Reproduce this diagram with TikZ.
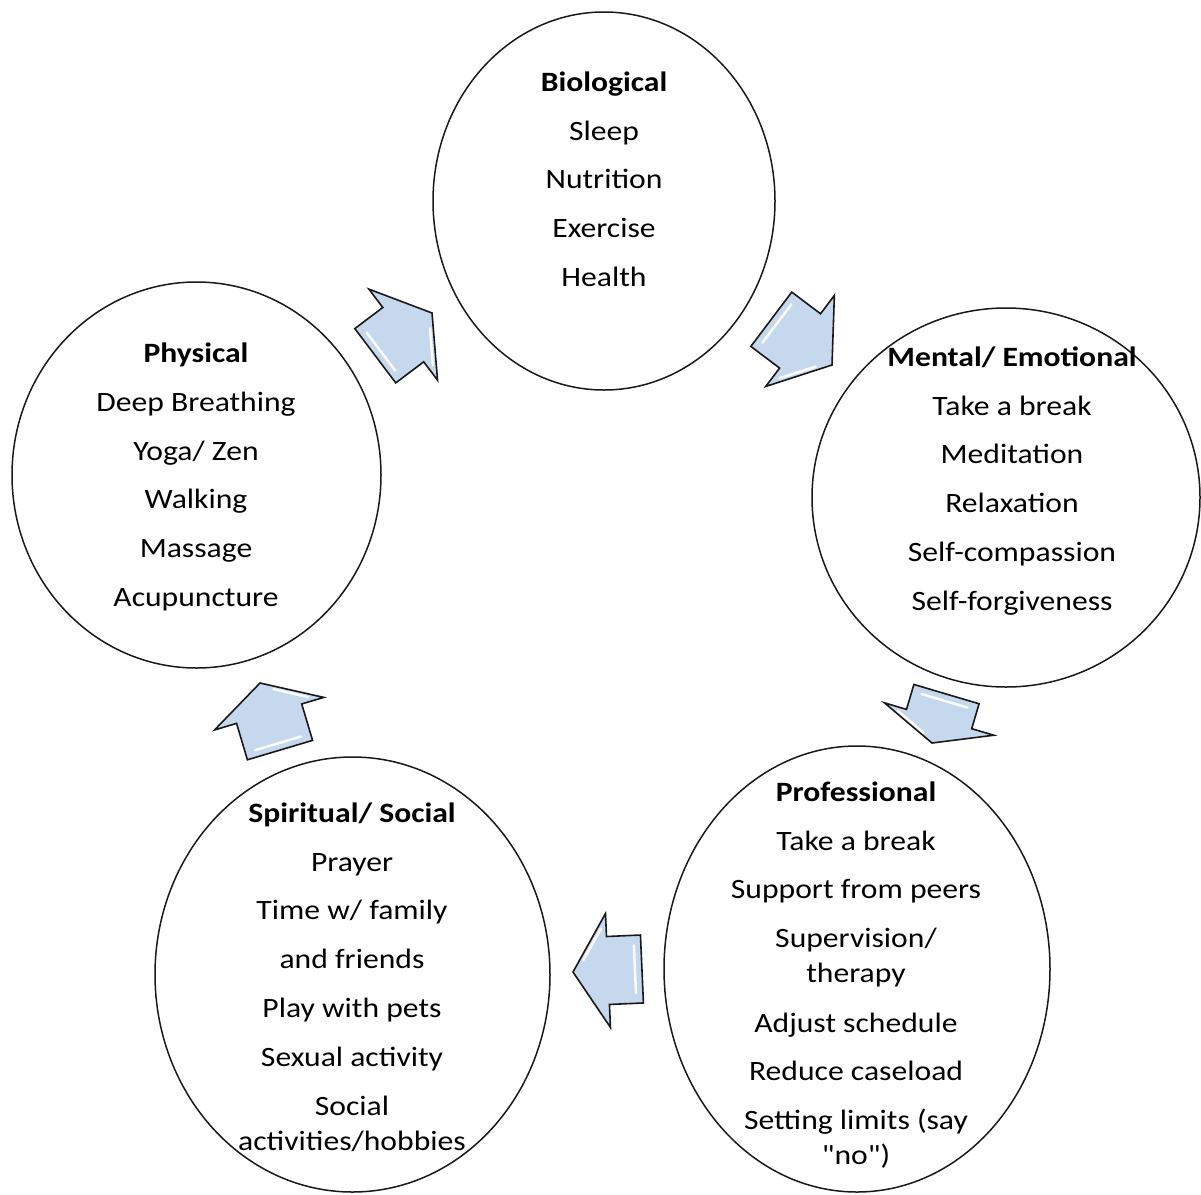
\documentclass[tikz,border=0pt]{standalone}
\usepackage{fontspec}
\setmainfont[Ligatures=TeXOff, FakeStretch=1.13]{Carlito}
\usetikzlibrary{shapes.geometric}
\definecolor{arrfill}{RGB}{198,216,238}
\definecolor{linec}{RGB}{25,25,25}
\tikzset{
  ring/.style={ellipse, draw=linec, line width=1.5pt, inner sep=0pt},
  lbl/.style={anchor=base, inner sep=0pt, font=\fontsize{28}{34}\selectfont},
  hdr/.style={anchor=base, inner sep=0pt, font=\fontsize{28}{34}\selectfont\bfseries},
  blk/.style={draw=linec, line width=1.6pt, fill=arrfill, line join=miter},
  shine/.style={draw=white, line width=2.5pt, line cap=round, opacity=0.9}
}
% #1 tip x, #2 tip y, #3 angle, #4 head length, #5 total length
\newcommand{\blockarr}[5]{%
  \draw[blk, shift={(#1,#2)}, rotate=#3]
    (0,0) -- (-#4,57) -- (-#4,34) -- (-#5,34) -- (-#5,-34) -- (-#4,-34) -- (-#4,-57) -- cycle;
  \draw[shine, shift={(#1,#2)}, rotate=#3] (-#5+7,-24) -- (-#5+7,24);
  \draw[shine, shift={(#1,#2)}, rotate=#3] ({-0.3*#4},11) -- ({-0.85*#4},42);
}
\begin{document}
\begin{tikzpicture}[x=1pt,y=-1pt]
\useasboundingbox (0,0) rectangle (1201,1194);
\clip (0,0) rectangle (1201,1194);

% ellipses
\node[ring, minimum width=342pt, minimum height=378pt] (bio) at (604,201) {};
\node[ring, minimum width=369pt, minimum height=386pt] (phys) at (196.5,475) {};
\node[ring, minimum width=388pt, minimum height=379pt] (ment) at (1006,497.5) {};
\node[ring, minimum width=386pt, minimum height=446pt] (prof) at (857,969) {};
\node[ring, minimum width=395pt, minimum height=435pt] (spir) at (352.5,974.5) {};

% arrows
\blockarr{432}{313}{37}{36}{71}
\blockarr{832}{365}{-37}{40}{76}
\blockarr{932}{743}{-106.5}{25}{51}
\blockarr{573}{972}{182.5}{35}{69}
\blockarr{260}{683}{106.6}{32}{70}

% Biological
\node[hdr] (b0) at (604,91) {Biological};
\node[lbl] (b1) at (604,140) {Sleep};
\node[lbl] (b2) at (604,188) {Nutrition};
\node[lbl] (b3) at (604,237) {Exercise};
\node[lbl] (b4) at (604,286) {Health};

% Physical
\node[hdr] (p0) at (196,362) {Physical};
\node[lbl] (p1) at (196,411) {Deep Breathing};
\node[lbl] (p2) at (196,460) {Yoga/ Zen};
\node[lbl] (p3) at (196,508) {Walking};
\node[lbl] (p4) at (196,557) {Massage};
\node[lbl] (p5) at (196,606) {Acupuncture};

% Mental / Emotional
\node[hdr] (m0) at (1012,366) {Mental/ Emotional};
\node[lbl] (m1) at (1012,415) {Take a break};
\node[lbl] (m2) at (1012,463) {Meditation};
\node[lbl] (m3) at (1012,512) {Relaxation};
\node[lbl] (m4) at (1012,561) {Self-compassion};
\node[lbl] (m5) at (1012,610) {Self-forgiveness};

% Professional
\node[hdr] (r0) at (856,801) {Professional};
\node[lbl] (r1) at (856,850) {Take a break};
\node[lbl] (r2) at (856,898) {Support from peers};
\node[lbl] (r3) at (856,947) {Supervision/};
\node[lbl] (r3b) at (856,982) {therapy};
\node[lbl] (r4) at (856,1032) {Adjust schedule};
\node[lbl] (r5) at (856,1080) {Reduce caseload};
\node[lbl] (r6) at (856,1129) {Setting limits (say};
\node[lbl] (r6b) at (856,1164) {"no")};

% Spiritual / Social
\node[hdr] (s0) at (352,822) {Spiritual/ Social};
\node[lbl] (s1) at (352,871) {Prayer};
\node[lbl] (s2) at (352,919) {Time w/ family};
\node[lbl] (s3) at (352,968) {and friends};
\node[lbl] (s4) at (352,1017) {Play with pets};
\node[lbl] (s5) at (352,1066) {Sexual activity};
\node[lbl] (s6) at (352,1115) {Social};
\node[lbl] (s6b) at (352,1150) {activities/hobbies};
\end{tikzpicture}
\end{document}
